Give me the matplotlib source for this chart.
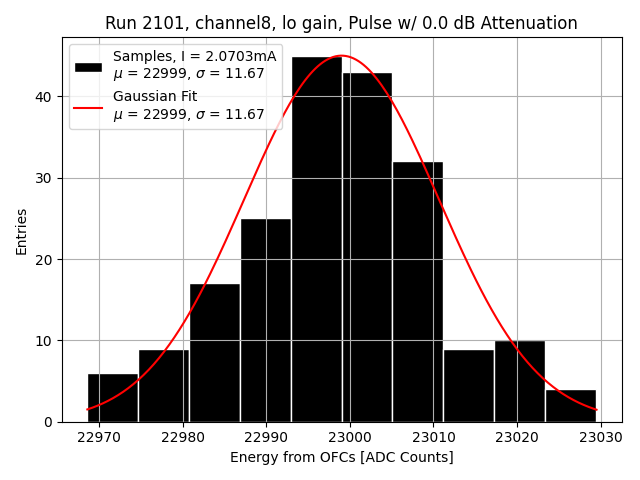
import numpy as np
import matplotlib
matplotlib.use("Agg")
import matplotlib.pyplot as plt

# histogram
bin_edges = np.linspace(22968.6, 23029.4, 11)
counts = [6, 9, 17, 25, 45, 43, 32, 9, 10, 4]

# gaussian fit parameters
fit_amp = 45.0
fit_mu = 22999.0
fit_sigma = 11.67
current_mA = 2.0703

fig, ax = plt.subplots(figsize=(6.4, 4.8), dpi=100)

ax.hist(bin_edges[:-1], bins=bin_edges, weights=counts, color="black",
        edgecolor="white", linewidth=1,
        label=f"Samples, I = {current_mA}mA\n$\\mu$ = {fit_mu:.0f}, $\\sigma$ = {fit_sigma:.2f}")

xs = np.linspace(22968.6, 23029.5, 200)
ys = fit_amp * np.exp(-0.5 * ((xs - fit_mu) / fit_sigma) ** 2)
ax.plot(xs, ys, color="red",
        label=f"Gaussian Fit\n$\\mu$ = {fit_mu:.0f}, $\\sigma$ = {fit_sigma:.2f}")

ax.set_title("Run 2101, channel8, lo gain, Pulse w/ 0.0 dB Attenuation")
ax.set_xlabel("Energy from OFCs [ADC Counts]")
ax.set_ylabel("Entries")
ax.grid(True)
ax.legend(loc="upper left")

fig.tight_layout()
fig.savefig("out.png")
